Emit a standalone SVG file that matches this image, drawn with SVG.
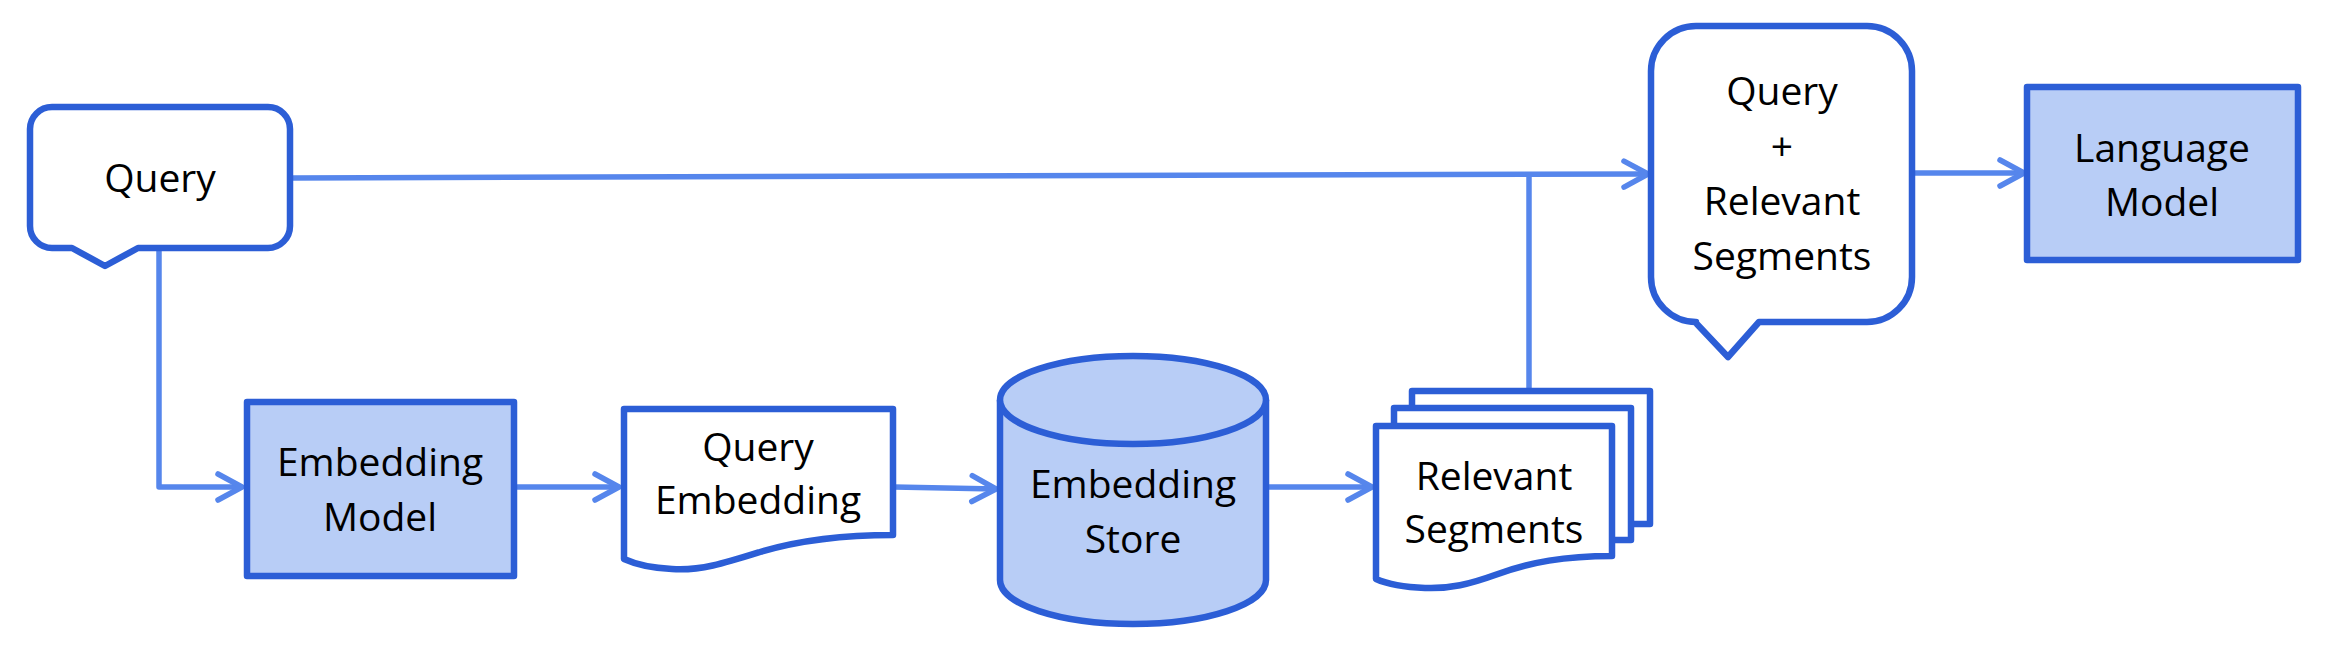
<svg xmlns="http://www.w3.org/2000/svg" width="2328" height="650" viewBox="0 0 2328 650">
<style>
.shape{stroke:#2c5ed6;stroke-width:6.5;stroke-linejoin:round}
.w{fill:#ffffff}
.b{fill:#b8cdf6}
.c{fill:none;stroke:#5686ec;stroke-width:5.5;stroke-linejoin:round}
text{font-family:"Open Sans","Noto Sans","Liberation Sans",sans-serif;font-size:39px;fill:#000;text-anchor:middle}
</style>
<defs>
<marker id="arr" markerUnits="userSpaceOnUse" viewBox="-30 -20 40 40" markerWidth="40" markerHeight="40" refX="0" refY="0" orient="auto" overflow="visible">
<path d="M-24,-13 L0,0 L-24,13" fill="none" stroke="#5686ec" stroke-width="5.5" stroke-linecap="round" stroke-linejoin="round"/>
</marker>
</defs>
<rect width="2328" height="650" fill="#ffffff"/>
<g id="connectors">
<path class="c" d="M292,178 L1648,174" marker-end="url(#arr)"/>
<path class="c" d="M159,250 V487 H242" marker-end="url(#arr)"/>
<path class="c" d="M517,487 H619" marker-end="url(#arr)"/>
<path class="c" d="M894,487 L996,489" marker-end="url(#arr)"/>
<path class="c" d="M1269,487 H1372" marker-end="url(#arr)"/>
<path class="c" d="M1529,388 V175"/>
<path class="c" d="M1915,173 H2024" marker-end="url(#arr)"/>
</g>
<g id="query">
<path class="shape w" d="M52,107 H268 A22,22 0 0 1 290,129 V226 A22,22 0 0 1 268,248 H138 L105,266 L72,248 H52 A22,22 0 0 1 30,226 V129 A22,22 0 0 1 52,107 Z"/>
<text x="160" y="192">Query</text>
</g>
<g id="embedding-model">
<rect class="shape b" x="247" y="402" width="267" height="174"/>
<text x="380" y="476">Embedding</text>
<text x="380" y="531">Model</text>
</g>
<g id="query-embedding">
<path class="shape w" d="M624,409 H893 V535 C840,535 800,540 760,552 C725,563 700,571 672,569 C650,568 635,564 624,559 Z"/>
<text x="758" y="461">Query</text>
<text x="758" y="514">Embedding</text>
</g>
<g id="embedding-store">
<path class="shape b" d="M1000,400 V580 A133,44 0 0 0 1266,580 V400"/>
<ellipse class="shape b" cx="1133" cy="400" rx="133" ry="44"/>
<text x="1133" y="498">Embedding</text>
<text x="1133" y="553">Store</text>
</g>
<g id="relevant-segments">
<rect class="shape w" x="1412" y="391" width="238" height="133"/>
<rect class="shape w" x="1394" y="408" width="237" height="132"/>
<path class="shape w" d="M1376,426 H1612 V556 C1565,556 1530,562 1495,575 C1470,584 1450,589 1425,588 C1400,587 1385,583 1376,579 Z"/>
<text x="1494" y="490">Relevant</text>
<text x="1494" y="543">Segments</text>
</g>
<g id="query-relevant">
<path class="shape w" d="M1696,26 H1867 A45,45 0 0 1 1912,71 V277 A45,45 0 0 1 1867,322 H1759 L1728,357 L1695,322 H1696 A45,45 0 0 1 1651,277 V71 A45,45 0 0 1 1696,26 Z"/>
<text x="1782" y="105">Query</text>
<text x="1782" y="160">+</text>
<text x="1782" y="215">Relevant</text>
<text x="1782" y="270">Segments</text>
</g>
<g id="language-model">
<rect class="shape b" x="2027" y="87" width="271" height="173"/>
<text x="2162" y="162">Language</text>
<text x="2162" y="216">Model</text>
</g>
</svg>
